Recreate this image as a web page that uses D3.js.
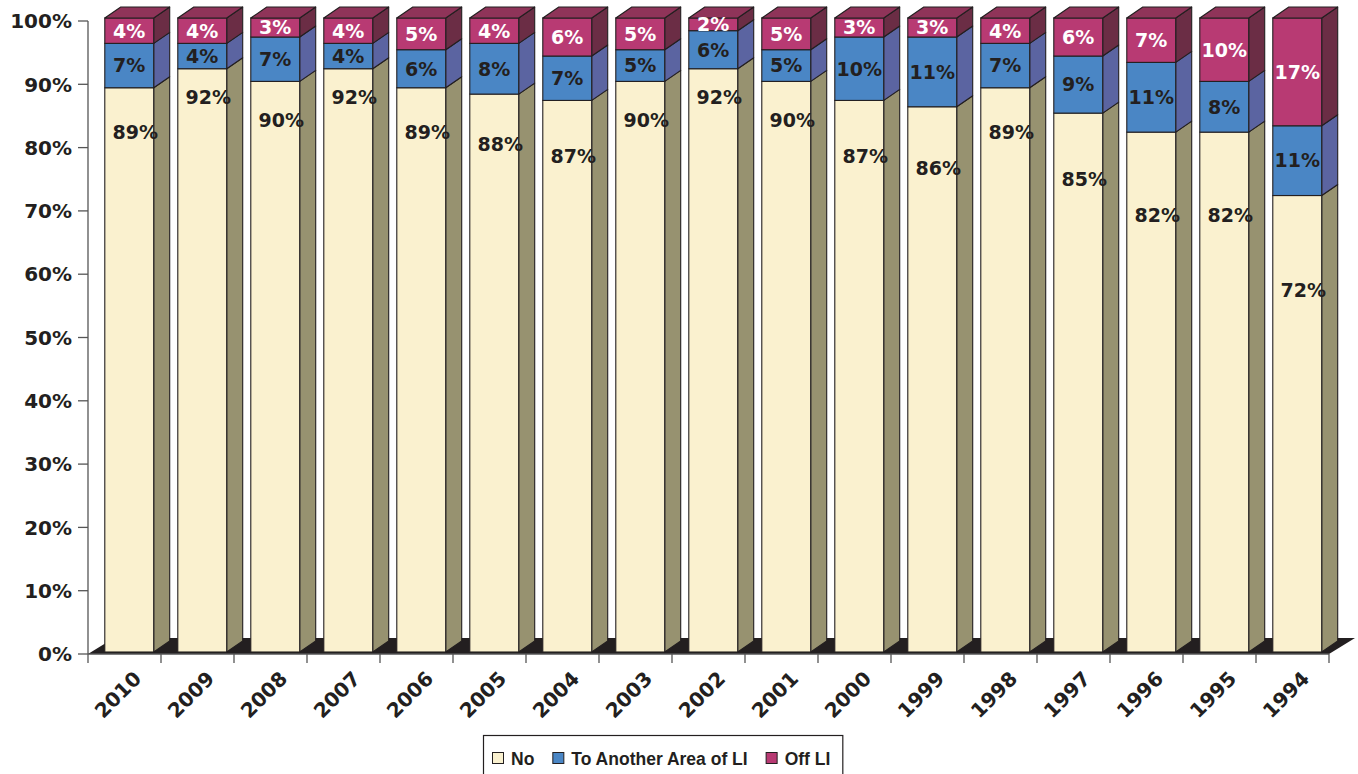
<!DOCTYPE html>
<html>
<head>
<meta charset="utf-8">
<style>
  html, body { margin: 0; padding: 0; background: #fff; }
  svg { display: block; }
  .lbl { font-family: "DejaVu Sans", Verdana, sans-serif; font-weight: bold; }
  .legend text { font-family: "Liberation Sans", Arial, sans-serif; font-weight: bold; }
</style>
<script src="https://cdn.jsdelivr.net/npm/d3@7/dist/d3.min.js"></script>
</head>
<body>
<svg id="chart" width="1358" height="774"></svg>
<script>
  var years = ['2010', '2009', '2008', '2007', '2006', '2005', '2004', '2003', '2002',
               '2001', '2000', '1999', '1998', '1997', '1996', '1995', '1994'];
  var noMove  = [89, 92, 90, 92, 89, 88, 87, 90, 92, 90, 87, 86, 89, 85, 82, 82, 72];
  var another = [7, 4, 7, 4, 6, 8, 7, 5, 6, 5, 10, 11, 7, 9, 11, 8, 11];
  var offLI   = [4, 4, 3, 4, 5, 4, 6, 5, 2, 5, 3, 3, 4, 6, 7, 10, 17];
  var seriesNames = ['No', 'To Another Area of LI', 'Off LI'];
  var yTicks = [0, 10, 20, 30, 40, 50, 60, 70, 80, 90, 100];

  var colors = [
    {front: '#faf1cf', side: '#979270', top: '#e8e0b8', text: '#231f20'},
    {front: '#4a86c5', side: '#5b64a1', top: '#4a6fb0', text: '#231f20'},
    {front: '#b83a73', side: '#6b2d45', top: '#8f3459', text: '#ffffff'}
  ];
  var edge = '#231f20';

  var svg = d3.select('#chart');
  var y = d3.scaleLinear().domain([0, 100]).range([654, 21]);
  // bars sit a touch higher than the axis (3d depth)
  var yBar = d3.scaleLinear().domain([0, 100]).range([652, 18]);
  var x = d3.scaleBand().domain(years).range([88, 1329]);
  var bw = x.bandwidth();
  var dx = 16, dy = -11;
  var frontOff = bw * 0.23, frontW = bw * 0.67;

  var rows = years.map(function(yr, i) {
    return {year: yr, i: i, vals: [noMove[i], another[i], offLI[i]]};
  });
  var stack = d3.stack().keys([0, 1, 2]).value(function(d, k) { return d.vals[k]; });
  var layers = stack(rows);

  // floor
  var fx0 = x.range()[0], fx1 = x.range()[1], f0 = y(0);
  svg.append('polygon')
    .attr('points', [[fx0, f0], [fx1, f0], [fx1 + 26, f0 - 16], [fx0 + 26, f0 - 16]].join(' '))
    .attr('fill', '#231f20');

  // y axis
  svg.append('line')
    .attr('x1', fx0).attr('x2', fx0).attr('y1', y(100)).attr('y2', y(0))
    .attr('stroke', '#555').attr('stroke-width', 1.3);
  var yt = svg.append('g').selectAll('g').data(yTicks).enter().append('g');
  yt.append('line')
    .attr('x1', fx0 - 10).attr('x2', fx0)
    .attr('y1', function(d) { return y(d); }).attr('y2', function(d) { return y(d); })
    .attr('stroke', '#555').attr('stroke-width', 1.3);
  yt.append('text').attr('class', 'lbl')
    .attr('x', 72).attr('y', function(d) { return y(d); })
    .attr('dy', '0.36em').attr('text-anchor', 'end')
    .attr('font-size', 20).attr('fill', '#231f20')
    .text(function(d) { return d + '%'; });

  // x axis
  var xb = years.map(function(d) { return x(d); }).concat([fx1]);
  svg.append('g').selectAll('line').data(xb).enter().append('line')
    .attr('x1', function(d) { return d; }).attr('x2', function(d) { return d; })
    .attr('y1', f0).attr('y2', f0 + 9)
    .attr('stroke', '#555').attr('stroke-width', 1.3);
  svg.append('line').attr('x1', fx0).attr('x2', fx1).attr('y1', f0).attr('y2', f0)
    .attr('stroke', '#555').attr('stroke-width', 1.3);

  svg.append('g').selectAll('text').data(years).enter().append('text')
    .attr('class', 'lbl')
    .attr('font-size', 20).attr('fill', '#231f20')
    .attr('text-anchor', 'end')
    .attr('transform', function(d) {
      return 'translate(' + (x(d) + bw / 2 + 18) + ',' + (f0 + 26) + ') rotate(-45)';
    })
    .text(function(d) { return d; });

  // bars
  var bars = svg.append('g');
  rows.forEach(function(r, i) {
    var g = bars.append('g');
    var x0 = x(r.year) + frontOff, x1 = x0 + frontW;
    layers.forEach(function(layer, k) {
      var yb = yBar(layer[i][0]), ytp = yBar(layer[i][1]);
      var c = colors[k];
      g.append('polygon')
        .attr('points', [[x1, ytp], [x1 + dx, ytp + dy], [x1 + dx, yb + dy], [x1, yb]].join(' '))
        .attr('fill', c.side).attr('stroke', edge).attr('stroke-width', 1.1)
        .attr('stroke-linejoin', 'round');
      g.append('rect')
        .attr('x', x0).attr('y', ytp).attr('width', frontW).attr('height', yb - ytp)
        .attr('fill', c.front).attr('stroke', edge).attr('stroke-width', 1.1);
      if (k === layers.length - 1) {
        g.append('polygon')
          .attr('points', [[x0, ytp], [x0 + dx, ytp + dy], [x1 + dx, ytp + dy], [x1, ytp]].join(' '))
          .attr('fill', c.top).attr('stroke', edge).attr('stroke-width', 1.1)
          .attr('stroke-linejoin', 'round');
      }
    });
    layers.forEach(function(layer, k) {
      var v = r.vals[k];
      var yb = yBar(layer[i][0]), ytp = yBar(layer[i][1]);
      var cx = x0 + frontW / 2, cy = (yb + ytp) / 2;
      if (k === 0) {
        cx += 6;
        cy = ytp + Math.min(28 + (92 - v) * 5.5, 95);
      }
      g.append('text').attr('class', 'lbl')
        .attr('x', cx).attr('y', cy).attr('dy', '0.36em')
        .attr('text-anchor', 'middle').attr('font-size', 19)
        .attr('fill', colors[k].text)
        .text(v + '%');
    });
  });

  // legend
  var lg = svg.append('g').attr('class', 'legend');
  var box = lg.append('rect')
    .attr('x', 483.5).attr('y', 735.5).attr('height', 45)
    .attr('fill', '#fff').attr('stroke', edge).attr('stroke-width', 1.2);
  var lx = 492;
  seriesNames.forEach(function(name, k) {
    lg.append('rect')
      .attr('x', lx + 0.5).attr('y', 752.5).attr('width', 11).attr('height', 11)
      .attr('fill', colors[k].front).attr('stroke', edge).attr('stroke-width', 1);
    var t = lg.append('text')
      .attr('x', lx + 19).attr('y', 765)
      .attr('font-size', 17.5).attr('fill', edge)
      .text(name);
    lx += 19 + t.node().getComputedTextLength() + 18;
  });
  box.attr('width', lx - 483 - 6);
</script>
</body>
</html>
